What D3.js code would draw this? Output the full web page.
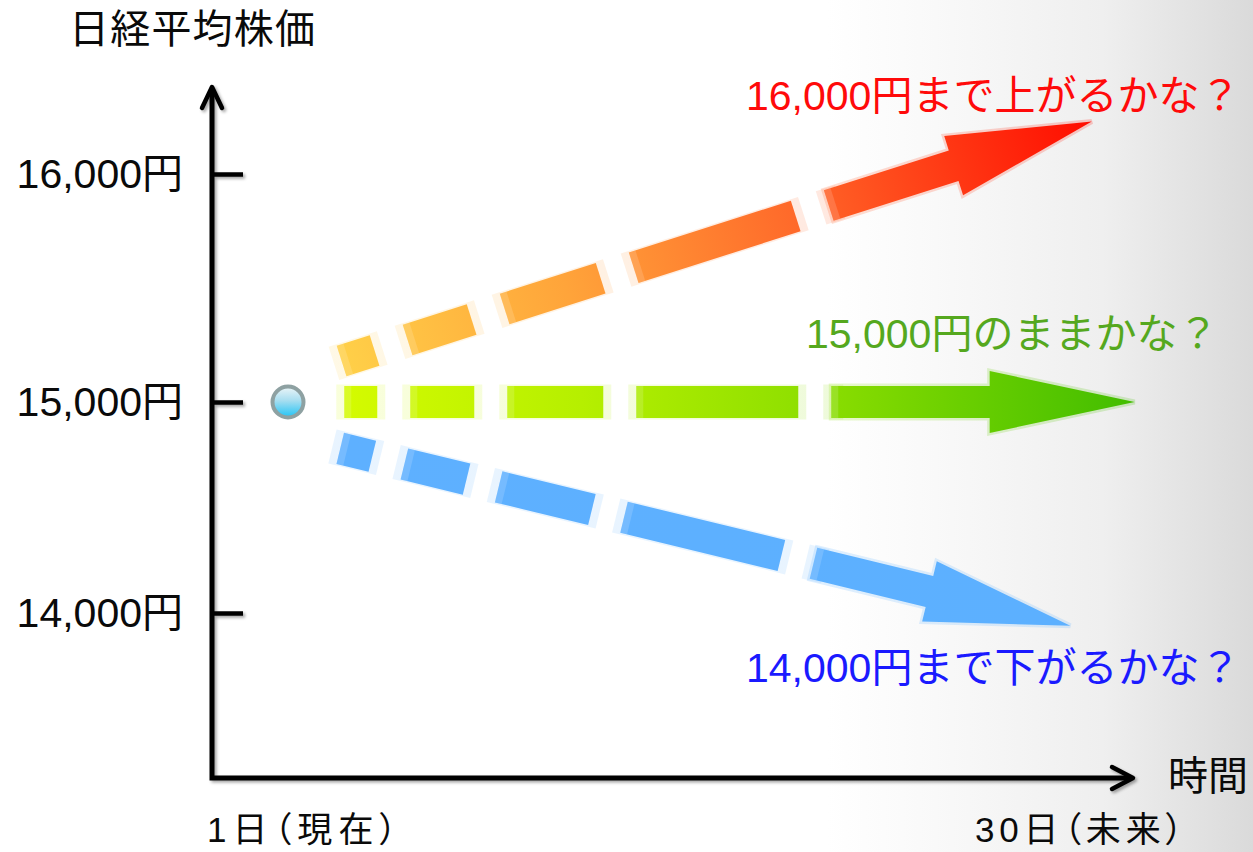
<!DOCTYPE html>
<html>
<head>
<meta charset="utf-8">
<script src="https://cdn.jsdelivr.net/npm/d3@7"></script>
<style>
  html, body { margin: 0; padding: 0; background: #fff; }
  svg { display: block; }
</style>
</head>
<body>
<svg id="chart" width="1253" height="852"></svg>
<script>
// Price levels marked on the vertical axis (yen)
const priceTicks = [14000, 15000, 16000];
// Days marked on the horizontal axis
const dayTicks = [1, 30];
const dayLabels = ["1日（現在）", "30日（未来）"];
// Today's price
const todayDay = 1;
const todayPrice = 15000;
// Three outlooks: where each arrow starts and ends (day, price)
const scenarioNames = ["up", "flat", "down"];
const scenarioStartDay = [3.0, 3.1, 2.95];
const scenarioEndDay = [31.0, 32.6, 30.2];
const scenarioStartPrice = [15180, 15000, 14780];
const scenarioEndPrice = [16230, 15000, 13940];
const scenarioLabels = ["16,000円まで上がるかな？", "15,000円のままかな？", "14,000円まで下がるかな？"];

const W = 1253, H = 852;
const FONT = "'Liberation Sans', 'Noto Sans CJK JP', sans-serif";
const svg = d3.select("#chart");
const defs = svg.append("defs");

// Background: white fading to light grey on the right
const bg = defs.append("linearGradient").attr("id", "bg").attr("x1", 0).attr("x2", 1).attr("y1", 0).attr("y2", 0);
[[0, "#ffffff"], [0.66, "#ffffff"], [0.72, "#fbfbfb"], [0.88, "#efefef"], [1, "#dadada"]]
  .forEach(([o, c]) => bg.append("stop").attr("offset", o).attr("stop-color", c));
svg.append("rect").attr("width", W).attr("height", H).attr("fill", "url(#bg)");

// Soft shadow under the axis strokes
const sh = defs.append("filter").attr("id", "shadow").attr("x", "-10%").attr("y", "-10%").attr("width", "120%").attr("height", "120%");
sh.append("feDropShadow").attr("dx", 2).attr("dy", 2).attr("stdDeviation", 1.5)
  .attr("flood-color", "#000").attr("flood-opacity", 0.35);

// Scales
const y = d3.scaleLinear().domain([14000, 15000, 16000]).range([613, 402, 174]);
const x = d3.scaleLinear().domain([1, 30]).range([288, 1065]);

const ox = 212, oy = 778;

// Axes with arrowheads
const axes = svg.append("g").attr("filter", "url(#shadow)");
axes.append("path")
  .attr("d", `M${ox},88 L${ox},${oy} L1131,${oy}`)
  .attr("fill", "none").attr("stroke", "#000").attr("stroke-width", 5)
  .attr("stroke-linejoin", "miter");
axes.append("path")
  .attr("d", `M${ox - 10},108 L${ox},87 L${ox + 10},108`)
  .attr("fill", "none").attr("stroke", "#000").attr("stroke-width", 4.5)
  .attr("stroke-linecap", "round").attr("stroke-linejoin", "round");
axes.append("path")
  .attr("d", `M1112,${oy - 11} L1133,${oy} L1112,${oy + 11}`)
  .attr("fill", "none").attr("stroke", "#000").attr("stroke-width", 4.5)
  .attr("stroke-linecap", "round").attr("stroke-linejoin", "round");

// Price ticks pointing into the plot, labels on the left
const yAxis = d3.axisLeft(y)
  .tickValues(priceTicks)
  .tickSizeInner(-31).tickSizeOuter(0).tickPadding(29)
  .tickFormat(d => d3.format(",")(d) + "円");
const yg = axes.append("g").attr("transform", `translate(${ox},0)`).call(yAxis);
yg.select(".domain").remove();
yg.selectAll(".tick line").attr("stroke", "#000").attr("stroke-width", 4.5);

// Tick labels go in an unshadowed layer
const labelLayer = svg.append("g");
yg.selectAll(".tick text").nodes().forEach(n => {
  const t = d3.select(n);
  const tr = d3.select(n.parentNode).attr("transform");
  labelLayer.append("text")
    .attr("transform", `translate(${ox},0) ${tr}`)
    .attr("x", t.attr("x")).attr("dy", "0.32em")
    .attr("text-anchor", "end")
    .attr("font-family", FONT).attr("font-size", 41).attr("fill", "#0a0a0a")
    .text(t.text());
  t.remove();
});

// Axis titles
svg.append("text").attr("x", 69).attr("y", 43)
  .attr("font-family", FONT).attr("font-size", 40).attr("fill", "#0a0a0a")
  .attr("letter-spacing", 1.2)
  .text("日経平均株価");
svg.append("text").attr("x", 1168).attr("y", 790)
  .attr("font-family", FONT).attr("font-size", 40).attr("fill", "#0a0a0a")
  .text("時間");

// Day labels under the time axis
const dayLabelWidth = [190, 208];
const dayLabelShift = [-81, -90];
svg.append("g").selectAll("text").data(dayTicks).join("text")
  .attr("x", (d, i) => x(d) + dayLabelShift[i])
  .attr("y", 842)
  .attr("font-family", FONT).attr("font-size", 35).attr("fill", "#0a0a0a")
  .style("font-feature-settings", "'palt'")
  .attr("textLength", (d, i) => dayLabelWidth[i])
  .attr("lengthAdjust", "spacing")
  .text((d, i) => dayLabels[i]);

// Colour ramps for each outlook arrow
const ramps = {
  up:   [[0, "#ffd048"], [0.3, "#ffa43a"], [0.6, "#ff6a2a"], [1, "#ff0c00"]],
  flat: [[0, "#d4fb00"], [0.3, "#b6ef00"], [0.6, "#8cde00"], [1, "#42bd00"]],
  down: [[0, "#5eb0ff"], [1, "#5cb0ff"]]
};
const labelColors = { up: "#ff0a0a", flat: "#55a81e", down: "#1a1aff" };
const labelPos = { up: [746, 110], flat: [806, 348], down: [746, 682] };
// the rising arrow's dashes run a little longer
const dashStretch = { up: 1.05, flat: 1, down: 1 };

const SHAFT = 16, HEAD_W = 31, HEAD_L = 145;
const dashes = [[0, 33], [66, 130], [163, 259], [292, 454]];
const lastStart = 487;

scenarioNames.forEach((name, i) => {
  const x1 = x(scenarioStartDay[i]), y1 = y(scenarioStartPrice[i]);
  const x2 = x(scenarioEndDay[i]), y2 = y(scenarioEndPrice[i]);
  const L = Math.hypot(x2 - x1, y2 - y1);
  const ang = Math.atan2(y2 - y1, x2 - x1) * 180 / Math.PI;
  const k = dashStretch[name];

  const grad = defs.append("linearGradient").attr("id", "g-" + name)
    .attr("gradientUnits", "userSpaceOnUse")
    .attr("x1", 0).attr("y1", 0).attr("x2", L).attr("y2", 0);
  ramps[name].forEach(([o, c]) => grad.append("stop").attr("offset", o).attr("stop-color", c));
  const fill = `url(#g-${name})`;

  const g = svg.append("g").attr("transform", `translate(${x1},${y1}) rotate(${ang})`);

  // dashed shaft: a faint halo behind each solid dash
  dashes.forEach(([a0, b0]) => {
    const a = a0 * k, b = b0 * k;
    g.append("rect").attr("x", a - 8).attr("y", -SHAFT - 1.5)
      .attr("width", b - a + 16).attr("height", 2 * SHAFT + 3)
      .attr("fill", fill).attr("opacity", 0.14);
    g.append("rect").attr("x", a).attr("y", -SHAFT)
      .attr("width", b - a).attr("height", 2 * SHAFT)
      .attr("fill", fill);
    g.append("rect").attr("x", a).attr("y", -SHAFT)
      .attr("width", 7).attr("height", 2 * SHAFT)
      .attr("fill", "#fff").attr("opacity", 0.15);
  });

  // final dash merged with the arrowhead
  const s = lastStart * k;
  const pts = [[s, -SHAFT], [L - HEAD_L, -SHAFT], [L - HEAD_L, -HEAD_W], [L, 0],
               [L - HEAD_L, HEAD_W], [L - HEAD_L, SHAFT], [s, SHAFT]];
  g.append("rect").attr("x", s - 8).attr("y", -SHAFT - 1.5)
    .attr("width", 20).attr("height", 2 * SHAFT + 3)
    .attr("fill", fill).attr("opacity", 0.14);
  g.append("polygon").attr("points", pts.map(p => p.join(",")).join(" "))
    .attr("fill", "none").attr("stroke", fill).attr("stroke-width", 5)
    .attr("stroke-opacity", 0.2).attr("stroke-linejoin", "miter");
  g.append("polygon").attr("points", pts.map(p => p.join(",")).join(" "))
    .attr("fill", fill);
  g.append("rect").attr("x", s).attr("y", -SHAFT)
    .attr("width", 7).attr("height", 2 * SHAFT)
    .attr("fill", "#fff").attr("opacity", 0.15);

  // outlook caption
  svg.append("text")
    .attr("x", labelPos[name][0]).attr("y", labelPos[name][1])
    .attr("font-family", FONT).attr("font-size", 41)
    .attr("fill", labelColors[name])
    .text(scenarioLabels[i]);
});

// Today's price marker
const dotGrad = defs.append("linearGradient").attr("id", "dot")
  .attr("x1", 0).attr("y1", 0).attr("x2", 0).attr("y2", 1);
[[0, "#eef6f8"], [0.45, "#a8def0"], [1, "#1ec4f6"]]
  .forEach(([o, c]) => dotGrad.append("stop").attr("offset", o).attr("stop-color", c));
svg.append("circle")
  .attr("cx", x(todayDay)).attr("cy", y(todayPrice)).attr("r", 15.5)
  .attr("fill", "url(#dot)").attr("stroke", "#8ea1a2").attr("stroke-width", 4);
</script>
</body>
</html>
